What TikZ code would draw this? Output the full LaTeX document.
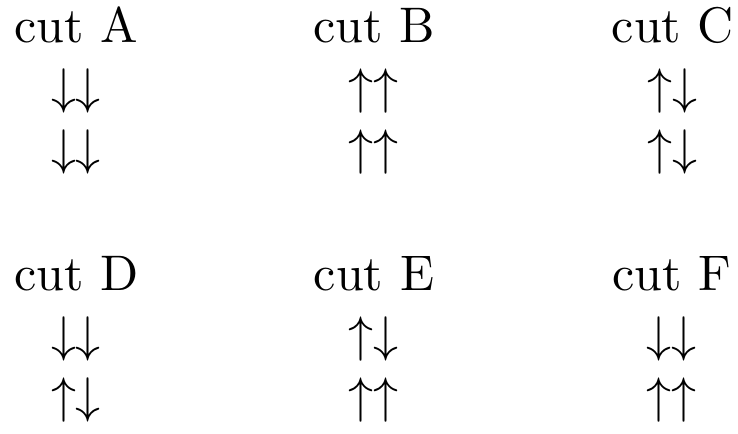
\documentclass[tikz,border=0pt]{standalone}
\usepackage{amsfonts,amssymb,amsmath}
\usepackage{tikz}
\usetikzlibrary{positioning}

\begin{document}
\begin{tikzpicture}[x=1pt,y=-1pt,
  cutlabel/.style={inner sep=0pt,anchor=base},
  spins/.style={inner sep=0pt,anchor=base}]
\useasboundingbox (0,0) rectangle (147.6,86.6);
\foreach \lab/\cx/\cy/\ra/\rb in {
  A/15.3/8.4/{\downarrow\downarrow}/{\downarrow\downarrow},
  B/74.8/8.4/{\uparrow\uparrow}/{\uparrow\uparrow},
  C/134.6/8.4/{\uparrow\downarrow}/{\uparrow\downarrow},
  D/15.3/58/{\downarrow\downarrow}/{\uparrow\downarrow},
  E/74.8/58/{\uparrow\downarrow}/{\uparrow\uparrow},
  F/134.4/58/{\downarrow\downarrow}/{\uparrow\uparrow}}
{
  \node[cutlabel] (cut\lab) at (\cx,\cy) {cut \lab};
  \node[spins] (cut\lab-1) at (\cx-0.1,\cy+12.2) {$\ra$};
  \node[spins] (cut\lab-2) at (\cx-0.1,\cy+24.5) {$\rb$};
}
\end{tikzpicture}
\end{document}
